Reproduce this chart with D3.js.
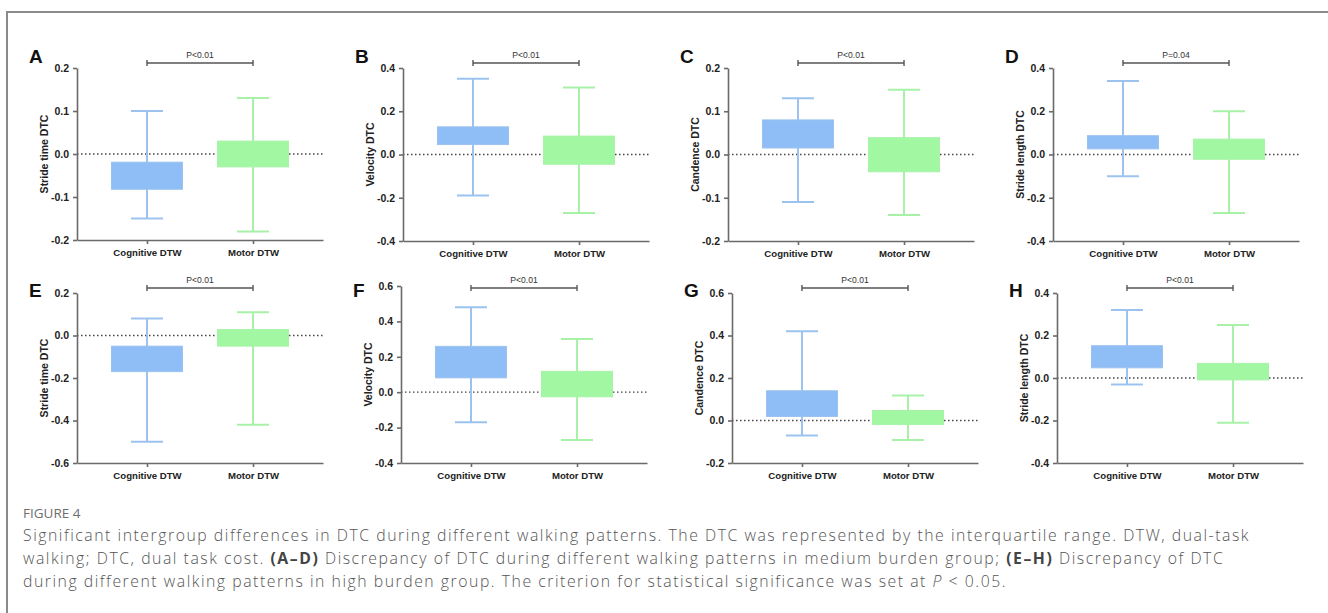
<!DOCTYPE html>
<html>
<head>
<meta charset="utf-8">
<script src="https://cdn.jsdelivr.net/npm/d3@7"></script>
<style>
  body { margin: 0; background: #fff; }
  svg { display: block; }
</style>
</head>
<body>
<svg id="fig" width="1328" height="613"></svg>
<script>
// panel data
var panelLetters = ['A', 'B', 'C', 'D', 'E', 'F', 'G', 'H'];
var yTitles = ['Stride time DTC', 'Velocity DTC', 'Candence DTC', 'Stride length DTC',
               'Stride time DTC', 'Velocity DTC', 'Candence DTC', 'Stride length DTC'];
var pLabels = ['P<0.01', 'P<0.01', 'P<0.01', 'P=0.04', 'P<0.01', 'P<0.01', 'P<0.01', 'P<0.01'];
var yTicks = [
  [-0.2, -0.1, 0.0, 0.1, 0.2],
  [-0.4, -0.2, 0.0, 0.2, 0.4],
  [-0.2, -0.1, 0.0, 0.1, 0.2],
  [-0.4, -0.2, 0.0, 0.2, 0.4],
  [-0.6, -0.4, -0.2, 0.0, 0.2],
  [-0.4, -0.2, 0.0, 0.2, 0.4, 0.6],
  [-0.2, 0.0, 0.2, 0.4, 0.6],
  [-0.4, -0.2, 0.0, 0.2, 0.4]
];
var categories = ['Cognitive DTW', 'Motor DTW'];
// [min, q1, q3, max]
var cognitive = [
  [-0.15, -0.082, -0.019, 0.10],
  [-0.19, 0.046, 0.128, 0.35],
  [-0.11, 0.015, 0.080, 0.13],
  [-0.10, 0.026, 0.087, 0.34],
  [-0.50, -0.17, -0.05, 0.08],
  [-0.17, 0.081, 0.259, 0.48],
  [-0.07, 0.019, 0.14, 0.42],
  [-0.031, 0.048, 0.152, 0.32]
];
var motor = [
  [-0.18, -0.03, 0.03, 0.13],
  [-0.27, -0.045, 0.085, 0.31],
  [-0.14, -0.04, 0.039, 0.15],
  [-0.27, -0.022, 0.071, 0.20],
  [-0.42, -0.05, 0.028, 0.11],
  [-0.27, -0.026, 0.118, 0.30],
  [-0.092, -0.019, 0.047, 0.118],
  [-0.21, -0.009, 0.069, 0.25]
];

var captionHead = 'FIGURE 4';
var captionLines = [
  [['Significant intergroup differences in DTC during different walking patterns. The DTC was represented by the interquartile range. DTW, dual-task', '']],
  [['walking; DTC, dual task cost. ', ''], ['(A\u2013D)', 'b'], [' Discrepancy of DTC during different walking patterns in medium burden group; ', ''], ['(E\u2013H)', 'b'], [' Discrepancy of DTC', '']],
  [['during different walking patterns in high burden group. The criterion for statistical significance was set at ', ''], ['P', 'i'], [' < 0.05.', '']]
];

// layout
var axisX = [77, 403, 728, 1053, 77, 401, 732, 1057];
var plotTop = [68, 68, 68, 68, 293, 286, 293, 293];
var plotBot = [240, 241, 241, 241, 463, 463, 463, 463];
var sigY = [63, 288];
var letterY = [63, 297];
var plotW = 246;
var boxW = 71, capW = 32;
var fills = ['#8fbdf6', '#a2f8a2'];
var strokes = ['#9cc3ef', '#a8f2a8'];

var svg = d3.select('#fig');

// frame
svg.append('line').attr('x1', 7).attr('x2', 7).attr('y1', 12).attr('y2', 613)
  .attr('stroke', '#8a8a8a').attr('stroke-width', 2);
svg.append('line').attr('x1', 6).attr('x2', 1328).attr('y1', 12).attr('y2', 12)
  .attr('stroke', '#8a8a8a').attr('stroke-width', 2);

function fmt(d) { return d.toFixed(1); }

panelLetters.forEach(function(letter, i) {
  var row = i < 4 ? 0 : 1;
  var g = svg.append('g').attr('transform', 'translate(' + axisX[i] + ',0)');
  var ticks = yTicks[i];
  var y = d3.scaleLinear()
    .domain([ticks[0], ticks[ticks.length - 1]])
    .range([plotBot[i], plotTop[i]]);
  var x = d3.scalePoint().domain(categories).range([0, plotW]).padding(0.66);

  // zero line
  g.append('line')
    .attr('x1', 0).attr('x2', plotW)
    .attr('y1', y(0)).attr('y2', y(0))
    .attr('stroke', '#444').attr('stroke-width', 1.3)
    .attr('stroke-dasharray', '1.5,2.5');

  [cognitive[i], motor[i]].forEach(function(s, k) {
    var cx = x(categories[k]);
    var bg = g.append('g');
    bg.append('line').attr('x1', cx).attr('x2', cx)
      .attr('y1', y(s[3])).attr('y2', y(s[0]))
      .attr('stroke', strokes[k]).attr('stroke-width', 2);
    [s[0], s[3]].forEach(function(v) {
      bg.append('line').attr('x1', cx - capW / 2).attr('x2', cx + capW / 2)
        .attr('y1', y(v)).attr('y2', y(v))
        .attr('stroke', strokes[k]).attr('stroke-width', 2);
    });
    bg.append('rect')
      .attr('x', cx - boxW / 2).attr('width', boxW)
      .attr('y', y(s[2])).attr('height', y(s[1]) - y(s[2]))
      .attr('fill', fills[k]).attr('stroke', strokes[k]).attr('stroke-width', 1);
  });

  var yAxis = d3.axisLeft(y).tickValues(ticks).tickFormat(fmt)
    .tickSize(4).tickSizeOuter(0).tickPadding(4);
  var ya = g.append('g').call(yAxis);
  var xAxis = d3.axisBottom(x).tickSize(4).tickSizeOuter(0).tickPadding(5);
  var xa = g.append('g').attr('transform', 'translate(0,' + plotBot[i] + ')').call(xAxis);

  [ya, xa].forEach(function(a) {
    a.select('.domain').attr('stroke', '#6a6a6a').attr('stroke-width', 1.6);
    a.selectAll('.tick line').attr('stroke', '#6a6a6a').attr('stroke-width', 1.6);
    a.selectAll('text').attr('fill', '#222')
      .style('font-family', 'Liberation Sans, Arial, sans-serif')
      .style('font-weight', 'bold');
  });
  ya.selectAll('text').style('font-size', '10.5px');
  xa.selectAll('text').style('font-size', '9.6px');

  // y title
  g.append('text')
    .attr('transform', 'translate(-33,' + ((plotTop[i] + plotBot[i]) / 2) + ') rotate(-90)')
    .attr('text-anchor', 'middle')
    .attr('dy', '0.35em')
    .style('font-family', 'Liberation Sans, Arial, sans-serif')
    .style('font-weight', 'bold').style('font-size', '10.5px')
    .attr('fill', '#222')
    .text(yTitles[i]);

  // panel letter
  g.append('text')
    .attr('x', -48).attr('y', letterY[row])
    .style('font-family', 'Liberation Sans, Arial, sans-serif')
    .style('font-weight', 'bold').style('font-size', '19px')
    .attr('fill', '#111')
    .text(letter);

  // significance bracket
  var x1 = x(categories[0]), x2 = x(categories[1]), sy = sigY[row];
  var sg = g.append('g').attr('stroke', '#555').attr('stroke-width', 1.4);
  sg.append('line').attr('x1', x1).attr('x2', x2).attr('y1', sy).attr('y2', sy);
  sg.append('line').attr('x1', x1).attr('x2', x1).attr('y1', sy - 3).attr('y2', sy + 3);
  sg.append('line').attr('x1', x2).attr('x2', x2).attr('y1', sy - 3).attr('y2', sy + 3);
  g.append('text')
    .attr('x', (x1 + x2) / 2).attr('y', sy - 5)
    .attr('text-anchor', 'middle')
    .style('font-family', 'Liberation Sans, Arial, sans-serif')
    .style('font-size', '8.6px')
    .attr('fill', '#333')
    .text(pLabels[i]);
});

// caption
var capFont = 'Open Sans, Lato, sans-serif';
svg.append('text')
  .attr('x', 23).attr('y', 518)
  .style('font-family', capFont).style('font-size', '13.5px')
  .style('font-weight', 500)
  .attr('fill', '#6e6e6e')
  .text(captionHead);

var capText = svg.append('g');
var lineY = [541, 564, 587];
captionLines.forEach(function(parts, li) {
  var t = capText.append('text')
    .attr('x', 23).attr('y', lineY[li])
    .style('font-family', capFont).style('font-size', '15.8px')
    .style('font-weight', 300)
    .attr('fill', '#555');
  parts.forEach(function(p) {
    var ts = t.append('tspan').text(p[0]);
    if (p[1] === 'b') ts.style('font-weight', 'bold').attr('fill', '#444');
    if (p[1] === 'i') ts.style('font-style', 'italic');
  });
});
// adjust letter spacing so the first line spans the width seen in the figure
var first = capText.select('text').node();
var w = first.getComputedTextLength();
var n = captionLines[0][0][0].length;
var ls = (1227 - w) / n;
capText.selectAll('text').style('letter-spacing', ls + 'px');
</script>
</body>
</html>
